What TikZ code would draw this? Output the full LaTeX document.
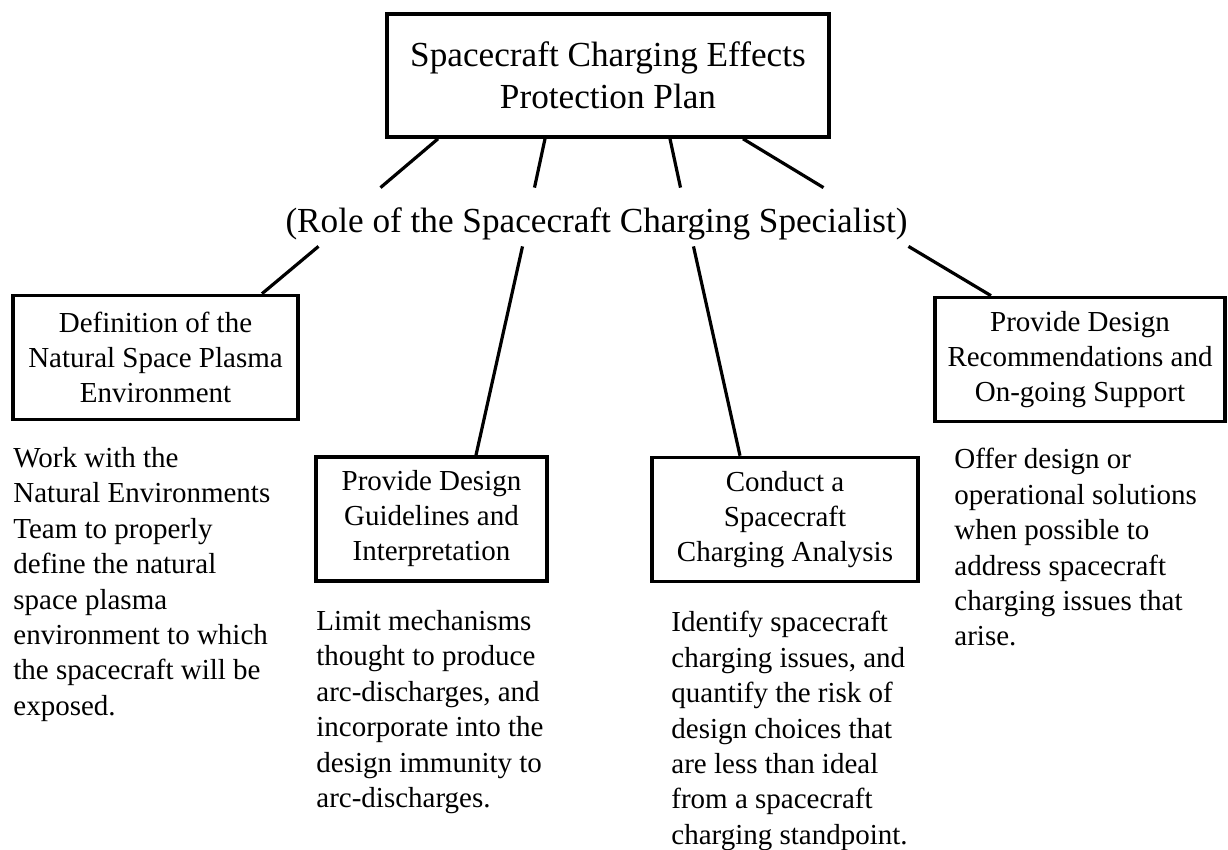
\documentclass[tikz,border=0pt]{standalone}
\usepackage{fontspec}
\setmainfont{Liberation Serif}
\usepackage{tikz}
\tikzstyle{every node}=[inner sep=0pt]
\tikzstyle{plan box}=[draw,line width=1.8pt,align=center,font=\fontsize{17.6}{21}\selectfont]
\tikzstyle{task box}=[draw,line width=1.8pt,align=center,minimum height=62pt,font=\fontsize{14.5}{17.5}\selectfont]
\tikzstyle{task text}=[anchor=north west,align=left,font=\fontsize{14.5}{17.7}\selectfont]
\tikzstyle{link}=[line width=1.6pt]

\begin{document}
\begin{tikzpicture}[x=0.5pt,y=-0.5pt]
	\useasboundingbox (0,0) rectangle (1228,850);
	\node(plan)[plan box,minimum width=221pt,minimum height=61.5pt] at (608,75.5)
		{Spacecraft Charging Effects\\Protection Plan};
	\node(role)[anchor=base,text height=22.5pt,text depth=6.5pt,font=\fontsize{17.6}{21}\selectfont] at (596.5,233)
		{(Role of the Spacecraft Charging Specialist)};

	\node(def)[task box,minimum width=142.5pt] at (155.5,357.5)
		{Definition of the\\Natural Space Plasma\\Environment};
	\node(guide)[task box,minimum width=115.5pt] at (431.5,519)
		{Provide Design\\Guidelines and\\Interpretation};
	\node(conduct)[task box,minimum width=133pt] at (785,519.5)
		{Conduct a\\Spacecraft\\Charging Analysis};
	\node(recom)[task box,minimum width=145pt] at (1080,359.5)
		{Provide Design\\Recommendations and\\On-going Support};

	\node(work)[task text] at (13,447)
		{Work with the\\Natural Environments\\Team to properly\\define the natural\\space plasma\\environment to which\\the spacecraft will be\\exposed.};
	\node(limit)[task text] at (316,610)
		{Limit mechanisms\\thought to produce\\arc-discharges, and\\incorporate into the\\design immunity to\\arc-discharges.};
	\node(ident)[task text] at (671,611)
		{Identify spacecraft\\charging issues, and\\quantify the risk of\\design choices that\\are less than ideal\\from a spacecraft\\charging standpoint.};
	\node(offer)[task text] at (954,448)
		{Offer design or\\operational solutions\\when possible to\\address spacecraft\\charging issues that\\arise.};

	\path[link] ([xshift=-85pt]plan.south) edge ([xshift=-108pt]role.north)
		([xshift=-31.5pt]plan.south) edge ([xshift=-31pt]role.north)
		([xshift=31pt]plan.south) edge ([xshift=42pt]role.north)
		([xshift=67.5pt]plan.south) edge ([xshift=113.5pt]role.north);
	\path[link] ([xshift=-139pt]role.south) edge ([xshift=53.25pt]def.north)
		([xshift=-37pt]role.south) edge ([xshift=22.25pt]guide.north)
		([xshift=48.5pt]role.south) edge ([xshift=-22.5pt]conduct.north)
		([xshift=156pt]role.south) edge ([xshift=-44.5pt]recom.north);
\end{tikzpicture}
\end{document}
